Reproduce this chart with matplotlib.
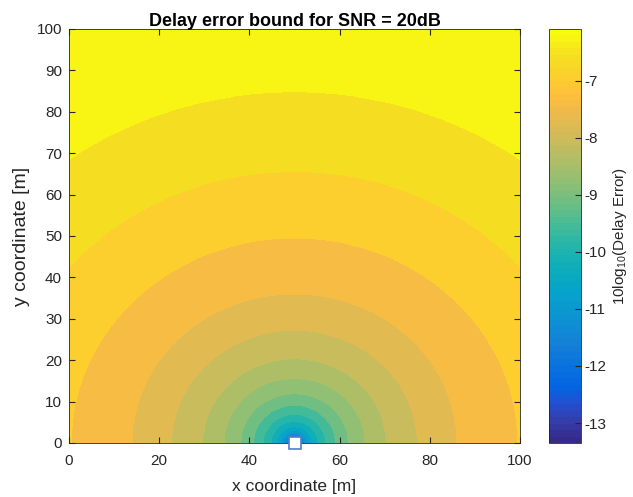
import numpy as np
import matplotlib
matplotlib.use("Agg")
import matplotlib.pyplot as plt
from matplotlib.colors import LinearSegmentedColormap, Normalize

plt.rcParams['font.family'] = ['Liberation Sans', 'DejaVu Sans']
plt.rcParams['mathtext.fontset'] = 'custom'
plt.rcParams['mathtext.rm'] = 'Liberation Sans'
plt.rcParams['axes.unicode_minus'] = False

# anchor position (white square)
anchor_x = 50
anchor_y = 0

# ring boundaries (distance from anchor, m), outside -> in
ring_radius = [84.8, 65.6, 49.5, 36.0, 27.2, 20.3, 15.6, 11.9, 9.1, 6.9,
               5.2, 3.9, 3.0, 2.3, 1.7, 1.3, 1.0, 0.75, 0.55]
# value of each band, outside -> in
band_value = [-6.27, -6.63, -6.99, -7.35, -7.71, -8.07, -8.43, -8.79, -9.15, -9.51,
              -9.87, -10.23, -10.59, -10.95, -11.31, -11.67, -12.03, -12.39, -12.75, -13.11]
# contour levels (low -> high)
levels = [-13.3, -12.93, -12.57, -12.21, -11.85, -11.49, -11.13, -10.77, -10.41, -10.05,
          -9.69, -9.33, -8.97, -8.61, -8.25, -7.89, -7.53, -7.17, -6.81, -6.45, -6.09]
cbar_ticks = [-13, -12, -11, -10, -9, -8, -7]

# parula (MATLAB) colormap
parula_pts = [
    (0.2081, 0.1663, 0.5292), (0.2081, 0.2386, 0.6771), (0.1253, 0.3242, 0.8303),
    (0.0117, 0.3875, 0.8820), (0.0329, 0.4430, 0.8720), (0.0779, 0.5040, 0.8384),
    (0.0488, 0.5772, 0.8228), (0.0231, 0.6418, 0.7913), (0.0590, 0.6838, 0.7254),
    (0.1801, 0.7177, 0.6424), (0.3482, 0.7424, 0.5473), (0.5300, 0.7491, 0.4661),
    (0.6834, 0.7435, 0.4044), (0.8185, 0.7327, 0.3498), (0.9450, 0.7261, 0.2886),
    (0.9938, 0.7455, 0.2403), (0.9955, 0.7861, 0.1967), (0.9626, 0.8705, 0.1309),
    (0.9763, 0.9831, 0.0538)]
parula_pos = [0, 3, 6, 8, 11, 15, 19, 23, 27, 31, 35, 39, 43, 47, 51, 53, 55, 59, 63]
parula = LinearSegmentedColormap.from_list(
    'parula', [(p / 63, c) for p, c in zip(parula_pos, parula_pts)], N=64)

# build the band field on a grid
x = np.linspace(0, 100, 801)
y = np.linspace(0, 100, 801)
X, Y = np.meshgrid(x, y)
D = np.hypot(X - anchor_x, Y - anchor_y)
idx = np.digitize(D, ring_radius[::-1])          # 0 = innermost band
Z = np.array(band_value[::-1])[idx]

fig = plt.figure(figsize=(6.33, 4.97), dpi=100)
ax = fig.add_axes([0.109, 0.1087, 0.7125, 0.833])
cax = fig.add_axes([0.867, 0.1087, 0.0513, 0.833])

norm = Normalize(vmin=-13.35, vmax=-6.09)
cs = ax.contourf(X, Y, Z, levels=levels, cmap=parula, norm=norm)

ax.plot(anchor_x, anchor_y, 's', ms=9, mfc='white', mec='#4f7fc6', mew=1.2,
        clip_on=False, zorder=5)

ax.set_xlim(0, 100)
ax.set_ylim(0, 100)
ax.set_xticks(range(0, 101, 20))
ax.set_yticks(range(0, 101, 10))
ax.tick_params(direction='in', length=4, labelsize=11, colors='#262626',
               top=True, right=True)
ax.tick_params(axis='x', pad=8)
ax.tick_params(axis='y', pad=5)
for s in ax.spines.values():
    s.set_color('#262626')
    s.set_linewidth(0.6)
ax.set_xlabel('x coordinate [m]', fontsize=12.5, color='#262626', labelpad=8)
ax.set_ylabel('y coordinate [m]', fontsize=14, color='#262626', labelpad=5)
ax.set_title('Delay error bound for SNR = 20dB', fontsize=13, fontweight='bold',
             color='#000000', pad=2.5)

sm = plt.cm.ScalarMappable(norm=norm, cmap=parula)
cb = fig.colorbar(sm, cax=cax, ticks=cbar_ticks)
cb.ax.tick_params(direction='in', length=4, labelsize=11, colors='#262626', pad=2.5)
cb.outline.set_edgecolor('#262626')
cb.outline.set_linewidth(0.6)
cb.set_label('10log$_{10}$(Delay Error)', fontsize=11, color='#262626', labelpad=3)

fig.savefig('out.png', dpi=100)
